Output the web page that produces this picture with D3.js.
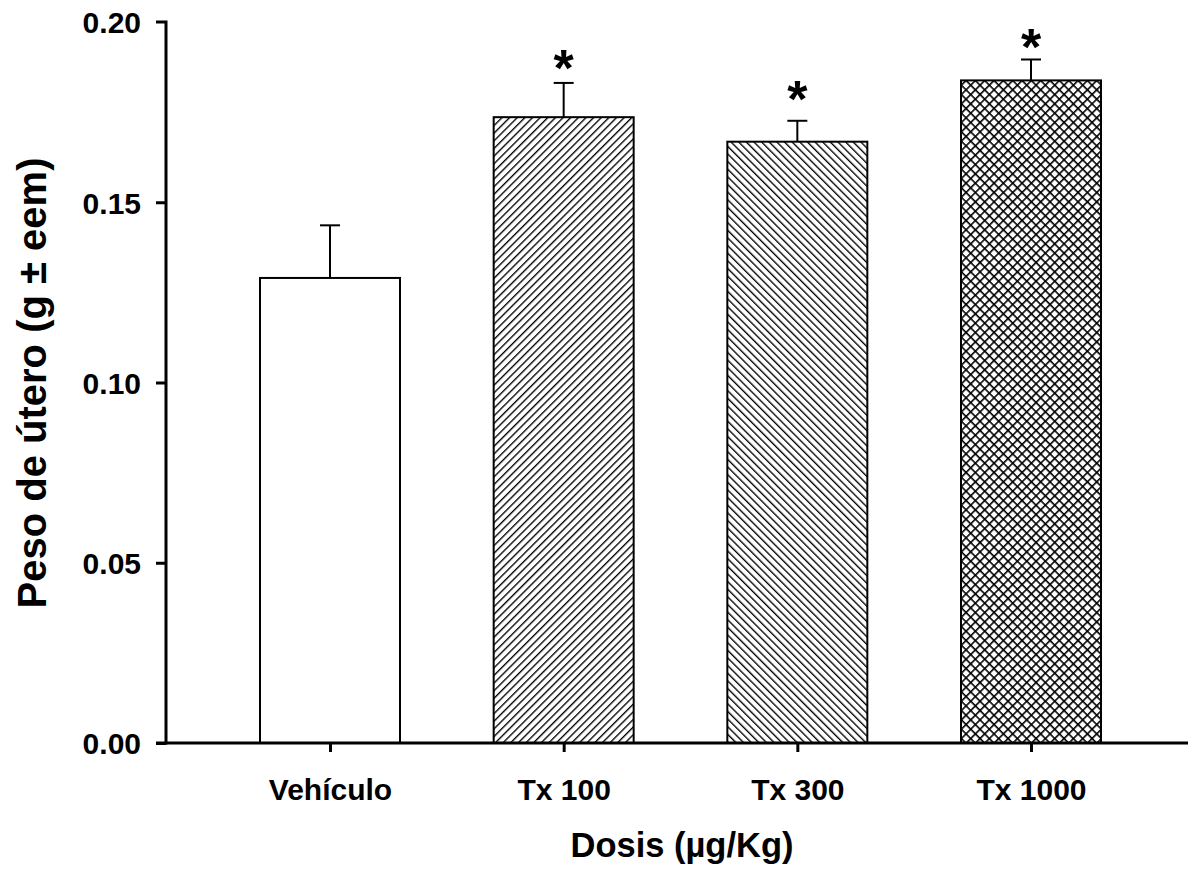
<!DOCTYPE html>
<html>
<head>
<meta charset="utf-8">
<script src="https://d3js.org/d3.v7.min.js"></script>
<style>
  body { margin: 0; background: #fff; }
  text { font-family: "Liberation Sans", Arial, sans-serif; font-weight: bold; fill: #000; }
</style>
</head>
<body>
<script>
// data
var groups = ["Vehículo", "Tx 100", "Tx 300", "Tx 1000"];
var means = [0.129, 0.1736, 0.1668, 0.1838];
var errors = [0.0146, 0.0095, 0.0058, 0.0058];
var fills = ["none", "hatchR", "hatchL", "cross"];
var starAt = [null, 0.1905, 0.1818, 0.1964];
var yTicks = [0, 0.05, 0.10, 0.15, 0.20];

var w = 1188, h = 869;
var svg = d3.select("body").append("svg")
  .attr("width", w).attr("height", h);

var defs = svg.append("defs");
function hatch(id, angle, size, sw, both) {
  var p = defs.append("pattern").attr("id", id)
    .attr("patternUnits", "userSpaceOnUse").attr("width", size).attr("height", size)
    .attr("patternTransform", "rotate(" + angle + ")");
  p.append("rect").attr("width", size).attr("height", size).attr("fill", "#fff");
  p.append("line").attr("x1", 0).attr("y1", 0).attr("x2", 0).attr("y2", size)
    .attr("stroke", "#000").attr("stroke-width", sw);
  if (both) p.append("line").attr("x1", 0).attr("y1", 0).attr("x2", size).attr("y2", 0)
    .attr("stroke", "#000").attr("stroke-width", sw);
}
hatch("hatchR", 45, 5.4, 2.7, false);
hatch("hatchL", -45, 5.4, 2.7, false);
hatch("cross", 45, 6.6, 3.2, true);

var leftX = 166, bottomY = 743, topY = 22;
var y = d3.scaleLinear().domain([0, 0.2]).range([bottomY, topY]);
var x = d3.scalePoint().domain(groups).range([330, 1031]);
var barW = 140;

// bars
svg.selectAll("rect.bar").data(groups).enter().append("rect")
  .attr("class", "bar")
  .attr("x", function(d) { return x(d) - barW / 2; })
  .attr("y", function(d, i) { return y(means[i]); })
  .attr("width", barW)
  .attr("height", function(d, i) { return bottomY - y(means[i]); })
  .attr("fill", function(d, i) { return fills[i] == "none" ? "#fff" : "url(#" + fills[i] + ")"; })
  .attr("stroke", "#000").attr("stroke-width", 2);

// error bars
svg.selectAll("line.err").data(groups).enter().append("line")
  .attr("x1", function(d) { return x(d); }).attr("x2", function(d) { return x(d); })
  .attr("y1", function(d, i) { return y(means[i]); })
  .attr("y2", function(d, i) { return y(means[i] + errors[i]); })
  .attr("stroke", "#000").attr("stroke-width", 2);
svg.selectAll("line.cap").data(groups).enter().append("line")
  .attr("x1", function(d) { return x(d) - 10; }).attr("x2", function(d) { return x(d) + 10; })
  .attr("y1", function(d, i) { return y(means[i] + errors[i]); })
  .attr("y2", function(d, i) { return y(means[i] + errors[i]); })
  .attr("stroke", "#000").attr("stroke-width", 2);

// significance stars
var starSize = 52;
svg.selectAll("text.star").data(groups.filter(function(d, i) { return starAt[i] != null; }))
  .enter().append("text")
  .attr("x", function(d) { return x(d); })
  .attr("y", function(d) { return y(starAt[groups.indexOf(d)]) + starSize * 0.57; })
  .attr("text-anchor", "middle")
  .style("font-size", starSize + "px")
  .text("*");

// axes
var yAxis = svg.append("g").attr("transform", "translate(" + leftX + ",0)")
  .call(d3.axisLeft(y).tickValues(yTicks).tickFormat(d3.format(".2f")).tickSize(10));
var xAxis = svg.append("g").attr("transform", "translate(0," + bottomY + ")")
  .call(d3.axisBottom(x).tickSize(9));

yAxis.select(".domain").attr("d", "M-10," + topY + "H0V" + (bottomY + 1.5));
xAxis.select(".domain").attr("d", "M" + (leftX - 10) + ",0H" + w);
svg.selectAll(".domain").attr("stroke", "#000").attr("stroke-width", 3);
svg.selectAll(".tick line").attr("stroke", "#000").attr("stroke-width", 3);
svg.selectAll(".tick text").style("font-size", "30px")
  .style("font-family", "'Liberation Sans', Arial, sans-serif").style("font-weight", "bold");
yAxis.selectAll(".tick").filter(function(d) { return d == 0.2; }).select("line").remove();
yAxis.selectAll(".tick text").attr("x", -25).attr("dy", "0.36em");
xAxis.selectAll(".tick text").attr("y", 57).attr("dy", 0);

// titles
svg.append("text")
  .attr("x", 682).attr("y", 857)
  .attr("text-anchor", "middle").style("font-size", "34.5px")
  .text("Dosis (µg/Kg)");
svg.append("text")
  .attr("transform", "translate(46,383) rotate(-90)")
  .attr("text-anchor", "middle").style("font-size", "40px")
  .text("Peso de útero (g ± eem)");
</script>
</body>
</html>
